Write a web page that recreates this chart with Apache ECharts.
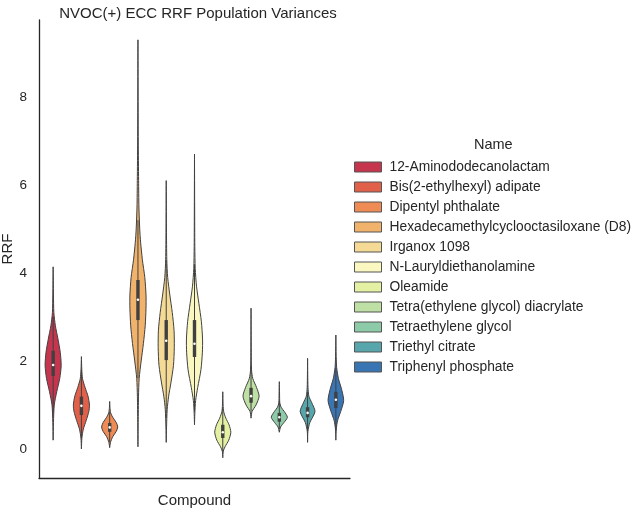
<!DOCTYPE html>
<html>
<head>
<meta charset="utf-8">
<script src="https://cdn.jsdelivr.net/npm/echarts@6/dist/echarts.min.js"></script>
<style>
  html, body { margin: 0; padding: 0; background: #fff; }
  #chart { width: 635px; height: 511px; }
</style>
</head>
<body>
<div id="chart"></div>
<script>
// compounds (hue levels)
const names = [
    '12-Aminododecanolactam',
    'Bis(2-ethylhexyl) adipate',
    'Dipentyl phthalate',
    'Hexadecamethylcyclooctasiloxane (D8)',
    'Irganox 1098',
    'N-Lauryldiethanolamine',
    'Oleamide',
    'Tetra(ethylene glycol) diacrylate',
    'Tetraethylene glycol',
    'Triethyl citrate',
    'Triphenyl phosphate'
];
const yTicks = [0, 2, 4, 6, 8];

// density outline: [RRF, relative half width]
const densityProfiles = [
    [[0.2, 0], [0.6, 0.04], [1.0, 0.14], [1.3, 0.45], [1.6, 0.82], [1.9, 1.0], [2.2, 0.88], [2.5, 0.6], [2.8, 0.28], [3.1, 0.09], [3.5, 0.04], [4.14, 0]],
    [[0.0, 0], [0.25, 0.06], [0.45, 0.24], [0.65, 0.6], [0.85, 0.92], [1.0, 1.0], [1.2, 0.82], [1.4, 0.45], [1.6, 0.14], [1.8, 0.05], [2.1, 0]],
    [[0.03, 0], [0.15, 0.1], [0.28, 0.38], [0.4, 0.82], [0.5, 1.0], [0.6, 0.82], [0.72, 0.38], [0.82, 0.12], [0.95, 0.03], [1.08, 0]],
    [[0.05, 0], [0.6, 0.03], [1.2, 0.07], [1.6, 0.15], [2.0, 0.4], [2.4, 0.68], [2.8, 0.9], [3.2, 1.0], [3.5, 1.0], [3.9, 0.85], [4.3, 0.55], [4.7, 0.33], [5.0, 0.22], [5.5, 0.12], [6.1, 0.08], [7.0, 0.04], [8.0, 0.02], [9.3, 0]],
    [[0.15, 0], [0.5, 0.04], [0.9, 0.12], [1.2, 0.3], [1.5, 0.58], [1.9, 0.9], [2.3, 1.0], [2.7, 0.97], [3.1, 0.75], [3.5, 0.45], [3.9, 0.18], [4.3, 0.07], [5.0, 0.03], [6.1, 0]],
    [[0.55, 0], [0.8, 0.04], [1.1, 0.14], [1.4, 0.4], [1.8, 0.8], [2.2, 0.98], [2.5, 1.0], [2.9, 0.85], [3.3, 0.55], [3.7, 0.25], [4.1, 0.09], [4.6, 0.04], [5.5, 0.02], [6.7, 0]],
    [[-0.2, 0], [-0.05, 0.06], [0.05, 0.28], [0.2, 0.74], [0.38, 1.0], [0.55, 0.78], [0.7, 0.38], [0.85, 0.11], [1.0, 0.04], [1.3, 0]],
    [[0.7, 0], [0.85, 0.12], [1.0, 0.62], [1.2, 1.0], [1.4, 0.68], [1.6, 0.22], [1.8, 0.06], [2.2, 0.03], [2.7, 0.015], [3.2, 0]],
    [[0.38, 0], [0.5, 0.16], [0.6, 0.58], [0.72, 1.0], [0.85, 0.62], [0.95, 0.22], [1.05, 0.06], [1.25, 0.03], [1.53, 0]],
    [[0.15, 0], [0.4, 0.04], [0.6, 0.28], [0.85, 0.92], [1.05, 0.52], [1.2, 0.16], [1.4, 0.05], [1.7, 0.02], [2.06, 0]],
    [[0.2, 0], [0.45, 0.05], [0.65, 0.22], [0.85, 0.6], [1.1, 0.97], [1.35, 0.72], [1.6, 0.32], [1.85, 0.1], [2.1, 0.04], [2.59, 0]]
];

// inner box stats
const q1s = [1.66, 0.77, 0.39, 2.93, 2.02, 2.09, 0.25, 1.05, 0.62, 0.72, 0.93];
const medians = [1.91, 0.98, 0.49, 3.39, 2.46, 2.39, 0.38, 1.20, 0.72, 0.82, 1.12];
const q3s = [2.23, 1.19, 0.59, 3.84, 2.93, 2.93, 0.55, 1.39, 0.82, 0.95, 1.30];
const whiskerLows = [0.8, 0.25, 0.15, 1.6, 0.7, 0.85, -0.1, 0.85, 0.45, 0.4, 0.4];
const whiskerHighs = [3.0, 1.8, 0.85, 5.2, 4.3, 4.2, 0.95, 1.9, 1.1, 1.3, 1.85];

const colors = ['#c5354e', '#e1604a', '#ef8b54', '#f1b26c', '#f4da94', '#faf7c0',
    '#e4f1a2', '#bee0a4', '#8dcaa8', '#57a6ab', '#3a75b3'];
const edge = '#404040';
const MAX_HALF = 0.285;
const font = "'Liberation Sans', Arial, sans-serif";

const chart = echarts.init(document.getElementById('chart'));

function renderViolin(params, api) {
    const i = api.value(0);
    const prof = densityProfiles[i];
    const right = prof.map(p => api.coord([i + p[1] * MAX_HALF, p[0]]));
    const left = prof.slice().reverse().map(p => api.coord([i - p[1] * MAX_HALF, p[0]]));
    const top = api.coord([i, q3s[i]]);
    const bot = api.coord([i, q1s[i]]);
    const wl = api.coord([i, whiskerLows[i]]);
    const wh = api.coord([i, whiskerHighs[i]]);
    const med = api.coord([i, medians[i]]);
    return {
        type: 'group',
        children: [{
            type: 'polygon',
            shape: { points: right.concat(left), smooth: 0.25 },
            style: { fill: colors[i], stroke: edge, lineWidth: 1 }
        }, {
            type: 'line',
            shape: { x1: wl[0], y1: wl[1], x2: wh[0], y2: wh[1] },
            style: { stroke: edge, lineWidth: 1 }
        }, {
            type: 'rect',
            shape: { x: top[0] - 1.7, y: top[1], width: 3.4, height: bot[1] - top[1] },
            style: { fill: edge }
        }, {
            type: 'circle',
            shape: { cx: med[0], cy: med[1], r: 1.3 },
            style: { fill: '#fff' }
        }]
    };
}

const series = names.map((n, i) => ({
    name: n,
    type: 'custom',
    renderItem: renderViolin,
    itemStyle: { color: colors[i], borderColor: edge, borderWidth: 1 },
    encode: { x: 0, y: 1 },
    data: [[i, medians[i]]],
    silent: true
}));

const options = {
    animation: false,
    textStyle: { fontFamily: font },
    title: {
        text: 'NVOC(+) ECC RRF Population Variances',
        left: 193,
        top: 1,
        textAlign: 'center',
        textStyle: { fontSize: 15, fontWeight: 'normal', color: '#262626', fontFamily: font }
    },
    grid: { left: 39, top: 20, width: 311, height: 458, outerBoundsMode: 'none' },
    xAxis: {
        type: 'value',
        min: -0.5,
        max: 10.5,
        name: 'Compound',
        nameLocation: 'middle',
        nameGap: 15,
        nameTextStyle: { fontSize: 15, color: '#262626' },
        axisLine: { show: true, onZero: false, lineStyle: { color: '#262626', width: 1.3 } },
        axisTick: { show: false },
        axisLabel: { show: false },
        splitLine: { show: false }
    },
    yAxis: {
        type: 'value',
        min: -0.66,
        max: 9.75,
        name: 'RRF',
        nameLocation: 'middle',
        nameGap: 24,
        nameTextStyle: { fontSize: 15, color: '#262626' },
        axisLine: { show: true, onZero: false, lineStyle: { color: '#262626', width: 1.3 } },
        axisTick: { show: false },
        axisLabel: { customValues: yTicks, fontSize: 13.5, color: '#262626', margin: 12 },
        splitLine: { show: false }
    },
    legend: {
        data: names,
        orient: 'vertical',
        left: 349,
        top: 155,
        icon: 'rect',
        itemWidth: 27,
        itemHeight: 10,
        itemGap: 6,
        itemStyle: { borderColor: '#555', borderWidth: 1 },
        textStyle: { fontSize: 13.8, color: '#262626', padding: [0, 0, 0, 3] },
        selectedMode: false
    },
    graphic: [{
        type: 'text',
        left: 474,
        top: 137,
        style: { text: 'Name', fontSize: 14.5, fill: '#262626', fontFamily: font }
    }],
    series: series
};
chart.setOption(options);
</script>
</body>
</html>
